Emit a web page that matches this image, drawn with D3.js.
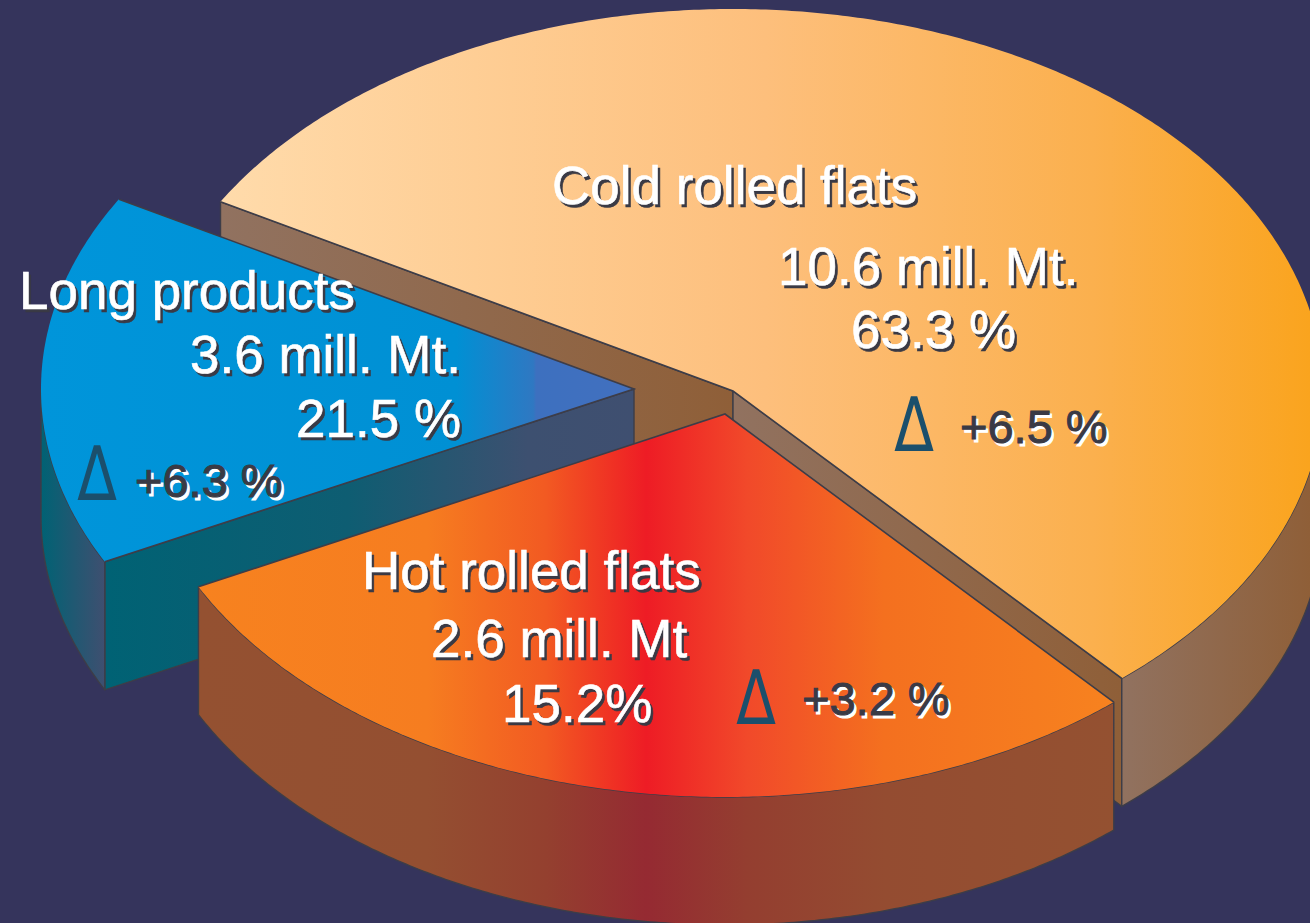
<!DOCTYPE html>
<html>
<head>
<meta charset="utf-8">
<script src="https://cdn.jsdelivr.net/npm/d3@7"></script>
<style>
  html, body { margin: 0; padding: 0; background: #35345c; overflow: hidden; }
  text { font-family: "Liberation Sans", Arial, sans-serif; }
</style>
</head>
<body>
<div id="chart"></div>
<script>
// values as printed on the chart
const products = ['Cold rolled flats', 'Hot rolled flats', 'Long products'];
const tonnage = ['10.6 mill. Mt.', '2.6 mill. Mt', '3.6 mill. Mt.'];
const shares = ['63.3 %', '15.2%', '21.5 %'];
const deltas = ['+6.5 %', '+3.2 %', '+6.3 %'];

// share of the circle each slice really takes up in the drawing (read off the picture,
// the artwork is not proportional to the printed percentages)
const drawnShare = [55.3, 29.0, 15.7];

const width = 1310;
const height = 923;
const radiusX = [590, 590, 593];
const radiusY = [382, 383, 383];
const depth = 128;
const startDeg = -60.3;

// slice layout: apex of each exploded slice, and where its labels go
const apex = [[733, 391], [725, 414], [634, 389]];
const labelPos = [
  { name: [552, 204], tons: [778, 285], share: [851, 348], delta: [960, 443], tri: [914, 451] },
  { name: [362, 589], tons: [431, 657], share: [502, 722], delta: [802, 715], tri: [756, 724] },
  { name: [19, 309], tons: [190, 373], share: [296, 437], delta: [135, 497], tri: [97, 500] },
];

const rad = d => d * Math.PI / 180;

const svg = d3.select('#chart').append('svg')
  .attr('width', width)
  .attr('height', height)
  .style('display', 'block');

svg.append('rect')
  .attr('width', width)
  .attr('height', height)
  .attr('fill', '#35345c');

const defs = svg.append('defs');

// horizontal gradient in page coordinates
function gradient(id, x1, x2, stops) {
  const g = defs.append('linearGradient')
    .attr('id', id)
    .attr('gradientUnits', 'userSpaceOnUse')
    .attr('x1', x1).attr('x2', x2)
    .attr('y1', 0).attr('y2', 0);
  stops.forEach(s => g.append('stop').attr('offset', s[0]).attr('stop-color', s[1]));
  return `url(#${id})`;
}

const fills = {
  coldTop: gradient('coldTop', 221, 1310, [[0, '#ffdbab'], [0.5, '#fdbf7c'], [0.8, '#fbb04e'], [1, '#faa41e']]),
  coldBack: gradient('coldBack', 221, 733, [[0, '#917260'], [1, '#8f5f38']]),
  coldSide: gradient('coldSide', 733, 1121, [[0, '#917260'], [1, '#8f5f38']]),
  coldRim: gradient('coldRim', 1121, 1310, [[0, '#917260'], [1, '#8f5f38']]),
  hotTop: gradient('hotTop', 198, 1113, [[0, '#f7821f'], [0.25, '#f67d20'], [0.38, '#f25a22'],
    [0.49, '#ee1c25'], [0.6, '#f1492a'], [0.75, '#f4701f'], [1, '#f7821f']]),
  hotRim: gradient('hotRim', 198, 1113, [[0, '#945131'], [0.25, '#944f31'], [0.38, '#94402f'],
    [0.49, '#952a32'], [0.6, '#943e30'], [0.75, '#944c31'], [1, '#945131']]),
  longTop: gradient('longTop', 41, 634, [[0, '#0095da'], [0.7, '#0090d4'], [0.83, '#2f78c2'], [0.835, '#3d70bf'], [1, '#4270bf']]),
  longSide: gradient('longSide', 105, 634, [[0, '#006274'], [0.46, '#0e5d72'], [0.8, '#3d5070'], [1, '#3f4f70']]),
  longRim: gradient('longRim', 41, 105, [[0, '#006274'], [1, '#3f4f70']]),
};

const pie = d3.pie()
  .sort(null)
  .startAngle(rad(startDeg))
  .endAngle(rad(startDeg + 360));

const slices = pie(drawnShare);

const line = d3.line();
const edgeColor = '#3d3d48';

function project(i) {
  const rx = radiusX[i];
  const ry = radiusY[i];
  const x = d3.scaleLinear().domain([-1, 1]).range([apex[i][0] - rx, apex[i][0] + rx]);
  const y = d3.scaleLinear().domain([-1, 1]).range([apex[i][1] - ry, apex[i][1] + ry]);
  return a => [x(Math.sin(a)), y(-Math.cos(a))];
}

function arcPoints(pt, a0, a1) {
  const step = rad(0.5);
  return d3.range(a0, a1, step).concat([a1]).map(pt);
}

const drop = p => [p[0], p[1] + depth];

function drawShape(points, fill, stroke) {
  svg.append('path')
    .attr('d', line(points) + 'Z')
    .attr('fill', fill)
    .attr('stroke', stroke ? edgeColor : 'none')
    .attr('stroke-width', 1.4)
    .attr('stroke-linejoin', 'round');
}

// inner wall between the apex and one end of the rim
function drawWall(i, a, fill) {
  const pt = project(i);
  const c = apex[i];
  const e = pt(a);
  drawShape([c, e, drop(e), drop(c)], fill, true);
}

// the part of the rim that faces the viewer
function drawRim(i, fill) {
  const pt = project(i);
  const a0 = Math.max(slices[i].startAngle, rad(90));
  const a1 = Math.min(slices[i].endAngle, rad(270));
  const top = arcPoints(pt, a0, a1);
  drawShape(top.concat(top.map(drop).reverse()), fill, true);
}

function drawTop(i, fill) {
  const pt = project(i);
  const c = apex[i];
  const s = slices[i];
  drawShape([c].concat(arcPoints(pt, s.startAngle, s.endAngle)), fill, false);
  // only the straight cuts carry a dark outline
  svg.append('path')
    .attr('d', line([pt(s.startAngle), c, pt(s.endAngle)]))
    .attr('fill', 'none')
    .attr('stroke', edgeColor)
    .attr('stroke-width', 1.6);
}

// cold rolled flats, at the back
drawWall(0, slices[0].startAngle, fills.coldBack);
drawWall(0, slices[0].endAngle, fills.coldSide);
drawRim(0, fills.coldRim);
drawTop(0, fills.coldTop);

// long products
drawWall(2, slices[2].startAngle, fills.longSide);
drawRim(2, fills.longRim);
drawTop(2, fills.longTop);

// hot rolled flats, in front
drawRim(1, fills.hotRim);
drawTop(1, fills.hotTop);

const shadowed = (str, pos, size, color, shadow, weight) => {
  [[shadow, 2.5], [color, 0]].forEach(([fill, off]) => {
    svg.append('text')
      .attr('x', pos[0] + off)
      .attr('y', pos[1] + off)
      .attr('font-size', size)
      .attr('fill', fill)
      .attr('stroke', fill)
      .attr('stroke-width', weight)
      .text(str);
  });
};

products.forEach((p, i) => {
  const pos = labelPos[i];
  shadowed(p, pos.name, 53, '#ffffff', '#3a3a45', 0.6);
  shadowed(tonnage[i], pos.tons, 53, '#ffffff', '#3a3a45', 0.6);
  shadowed(shares[i], pos.share, 53, '#ffffff', '#3a3a45', 0.6);
  shadowed(deltas[i], pos.delta, 47, '#3a3a45', '#ffffff', 1);

  svg.append('text')
    .attr('transform', `translate(${pos.tri[0]},${pos.tri[1]}) scale(0.76,1)`)
    .attr('text-anchor', 'middle')
    .style('font-family', '"DejaVu Sans", sans-serif')
    .attr('font-size', 76)
    .attr('fill', '#1b4f6c')
    .text('\u2206');
});
</script>
</body>
</html>
